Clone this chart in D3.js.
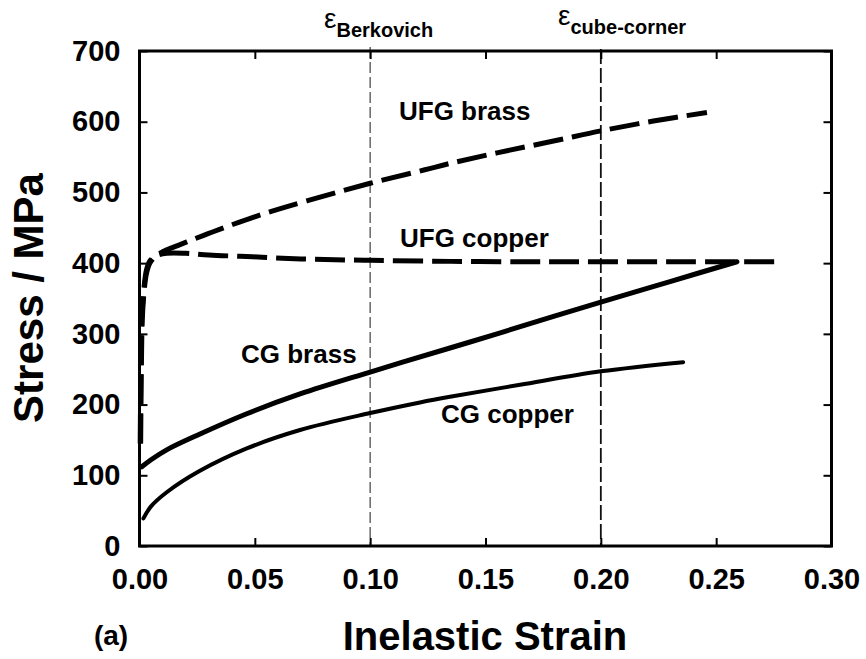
<!DOCTYPE html>
<html>
<head>
<meta charset="utf-8">
<script src="https://cdn.jsdelivr.net/npm/d3@7"></script>
<style>
  html, body { margin: 0; padding: 0; background: #fff; }
  svg { display: block; font-family: "Liberation Sans", Arial, Helvetica, sans-serif; }
</style>
</head>
<body>
<svg id="chart" width="866" height="659"></svg>
<script>
// ---- data ----
const xTicks = [0.00, 0.05, 0.10, 0.15, 0.20, 0.25, 0.30];
const yTicks = [0, 100, 200, 300, 400, 500, 600, 700];

const ufgBrassStrain = [0.0005, 0.0008, 0.0012, 0.002, 0.003, 0.0045, 0.007, 0.010, 0.015, 0.0205, 0.030, 0.0407, 0.055, 0.0725, 0.100, 0.1237, 0.1346, 0.155, 0.180, 0.200, 0.2228, 0.246];
const ufgBrassStress = [145, 250, 320, 360, 385, 400, 410, 416, 423, 430, 442, 455, 471, 488, 513, 532, 541, 556, 573, 587, 601, 613];

const ufgCopperStrain = [0.0003, 0.0006, 0.001, 0.0018, 0.003, 0.0045, 0.007, 0.0118, 0.020, 0.030, 0.049, 0.070, 0.100, 0.135, 0.170, 0.200, 0.240, 0.2764];
const ufgCopperStress = [145, 250, 320, 360, 390, 403, 410, 414, 414, 411.5, 409, 406, 404, 402.5, 402, 402, 402, 402];

const cgBrassStrain = [0.001, 0.005, 0.0118, 0.026, 0.0465, 0.0696, 0.100, 0.1346, 0.155, 0.200, 0.230, 0.259];
const cgBrassStress = [112, 122, 136, 158, 187, 215, 246, 280, 300, 345, 374, 402];

const cgCopperStrain = [0.0017, 0.005, 0.0118, 0.026, 0.0465, 0.0696, 0.100, 0.1216, 0.1346, 0.165, 0.200, 0.2357];
const cgCopperStress = [39, 56, 76, 106, 138, 164, 188, 203, 211, 228, 247, 260];

const refStrains = [0.10, 0.20];

// ---- layout ----
const svg = d3.select("#chart");
const pL = 139.5, pR = 831.5, pT = 51, pB = 546;
const x = d3.scaleLinear().domain([0, 0.30]).range([pL, pR]);
const y = d3.scaleLinear().domain([0, 700]).range([pB, pT]);

const toPts = (xs, ys) => xs.map((v, i) => [v, ys[i]]);
const line = d3.line().x(d => x(d[0])).y(d => y(d[1])).curve(d3.curveCatmullRom.alpha(0.5));

// reference vertical dashed lines
svg.append("line")
  .attr("x1", x(refStrains[0])).attr("x2", x(refStrains[0]))
  .attr("y1", pT - 4).attr("y2", pB)
  .attr("stroke", "#666").attr("stroke-width", 1.5)
  .attr("stroke-dasharray", "11,4");
svg.append("line")
  .attr("x1", x(refStrains[1])).attr("x2", x(refStrains[1]))
  .attr("y1", pT - 2).attr("y2", pB)
  .attr("stroke", "#111").attr("stroke-width", 1.8)
  .attr("stroke-dasharray", "15,4");

// axes (ticks inward)
const fmtX = d3.format(".2f");
const bottomAxis = d3.axisBottom(x).tickValues(xTicks).tickFormat(fmtX).tickSizeInner(-8).tickSizeOuter(0).tickPadding(22);
const leftAxis = d3.axisLeft(y).tickValues(yTicks).tickFormat(d3.format("d")).tickSizeInner(-8).tickSizeOuter(0).tickPadding(19);
const topAxis = d3.axisTop(x).tickValues(xTicks).tickFormat("").tickSizeInner(-8).tickSizeOuter(0);
const rightAxis = d3.axisRight(y).tickValues(yTicks).tickFormat("").tickSizeInner(-8).tickSizeOuter(0);

function styleAxis(g) {
  g.select(".domain").remove();
  g.selectAll(".tick line").attr("stroke", "#000").attr("stroke-width", 2);
  g.selectAll(".tick text").attr("fill", "#000").attr("font-size", 29).attr("font-weight", "bold")
    .attr("font-family", "'Liberation Sans', Arial, sans-serif");
}
svg.append("g").attr("transform", `translate(0,${pB})`).call(bottomAxis).call(styleAxis);
svg.append("g").attr("transform", `translate(${pL},0)`).call(leftAxis).call(styleAxis);
svg.append("g").attr("transform", `translate(0,${pT})`).call(topAxis).call(styleAxis);
svg.append("g").attr("transform", `translate(${pR},0)`).call(rightAxis).call(styleAxis);

// frame
svg.append("rect")
  .attr("x", pL).attr("y", pT).attr("width", pR - pL).attr("height", pB - pT)
  .attr("fill", "none").attr("stroke", "#000").attr("stroke-width", 3);

// curves
svg.append("path").datum(toPts(cgCopperStrain, cgCopperStress))
  .attr("d", line).attr("fill", "none").attr("stroke", "#000")
  .attr("stroke-width", 4).attr("stroke-linecap", "round");
svg.append("path").datum(toPts(cgBrassStrain, cgBrassStress))
  .attr("d", line).attr("fill", "none").attr("stroke", "#000")
  .attr("stroke-width", 5).attr("stroke-linecap", "round");
svg.append("path").datum(toPts(ufgCopperStrain, ufgCopperStress))
  .attr("d", line).attr("fill", "none").attr("stroke", "#000")
  .attr("stroke-width", 5).attr("stroke-dasharray", "30,9");
svg.append("path").datum(toPts(ufgBrassStrain, ufgBrassStress))
  .attr("d", line).attr("fill", "none").attr("stroke", "#000")
  .attr("stroke-width", 5).attr("stroke-dasharray", "30,9");

// annotations
const lab = (tx, ty, s, size) => svg.append("text")
  .attr("x", tx).attr("y", ty).attr("font-size", size).attr("font-weight", "bold")
  .attr("fill", "#000").text(s);
lab(399, 120, "UFG brass", 26);
lab(400, 247, "UFG copper", 26);
lab(241, 363, "CG brass", 26);
lab(441, 423, "CG copper", 26);

// epsilon labels
function eps(tx, ty, sub) {
  const t = svg.append("text").attr("x", tx).attr("y", ty).attr("fill", "#000");
  t.append("tspan").attr("font-size", 28).text("ε");
  t.append("tspan").attr("font-size", 20).attr("font-weight", "bold").attr("dy", 9).text(sub);
}
eps(324, 28, "Berkovich");
eps(558, 25, "cube-corner");

// axis titles
svg.append("text").attr("x", 485).attr("y", 650).attr("text-anchor", "middle")
  .attr("font-size", 40).attr("font-weight", "bold").attr("fill", "#000").text("Inelastic Strain");
svg.append("text").attr("transform", "translate(43,298) rotate(-90)").attr("text-anchor", "middle")
  .attr("font-size", 42).attr("font-weight", "bold").attr("fill", "#000").text("Stress / MPa");
svg.append("text").attr("x", 111).attr("y", 645).attr("text-anchor", "middle")
  .attr("font-size", 28).attr("font-weight", "bold").attr("fill", "#000").text("(a)");
</script>
</body>
</html>
